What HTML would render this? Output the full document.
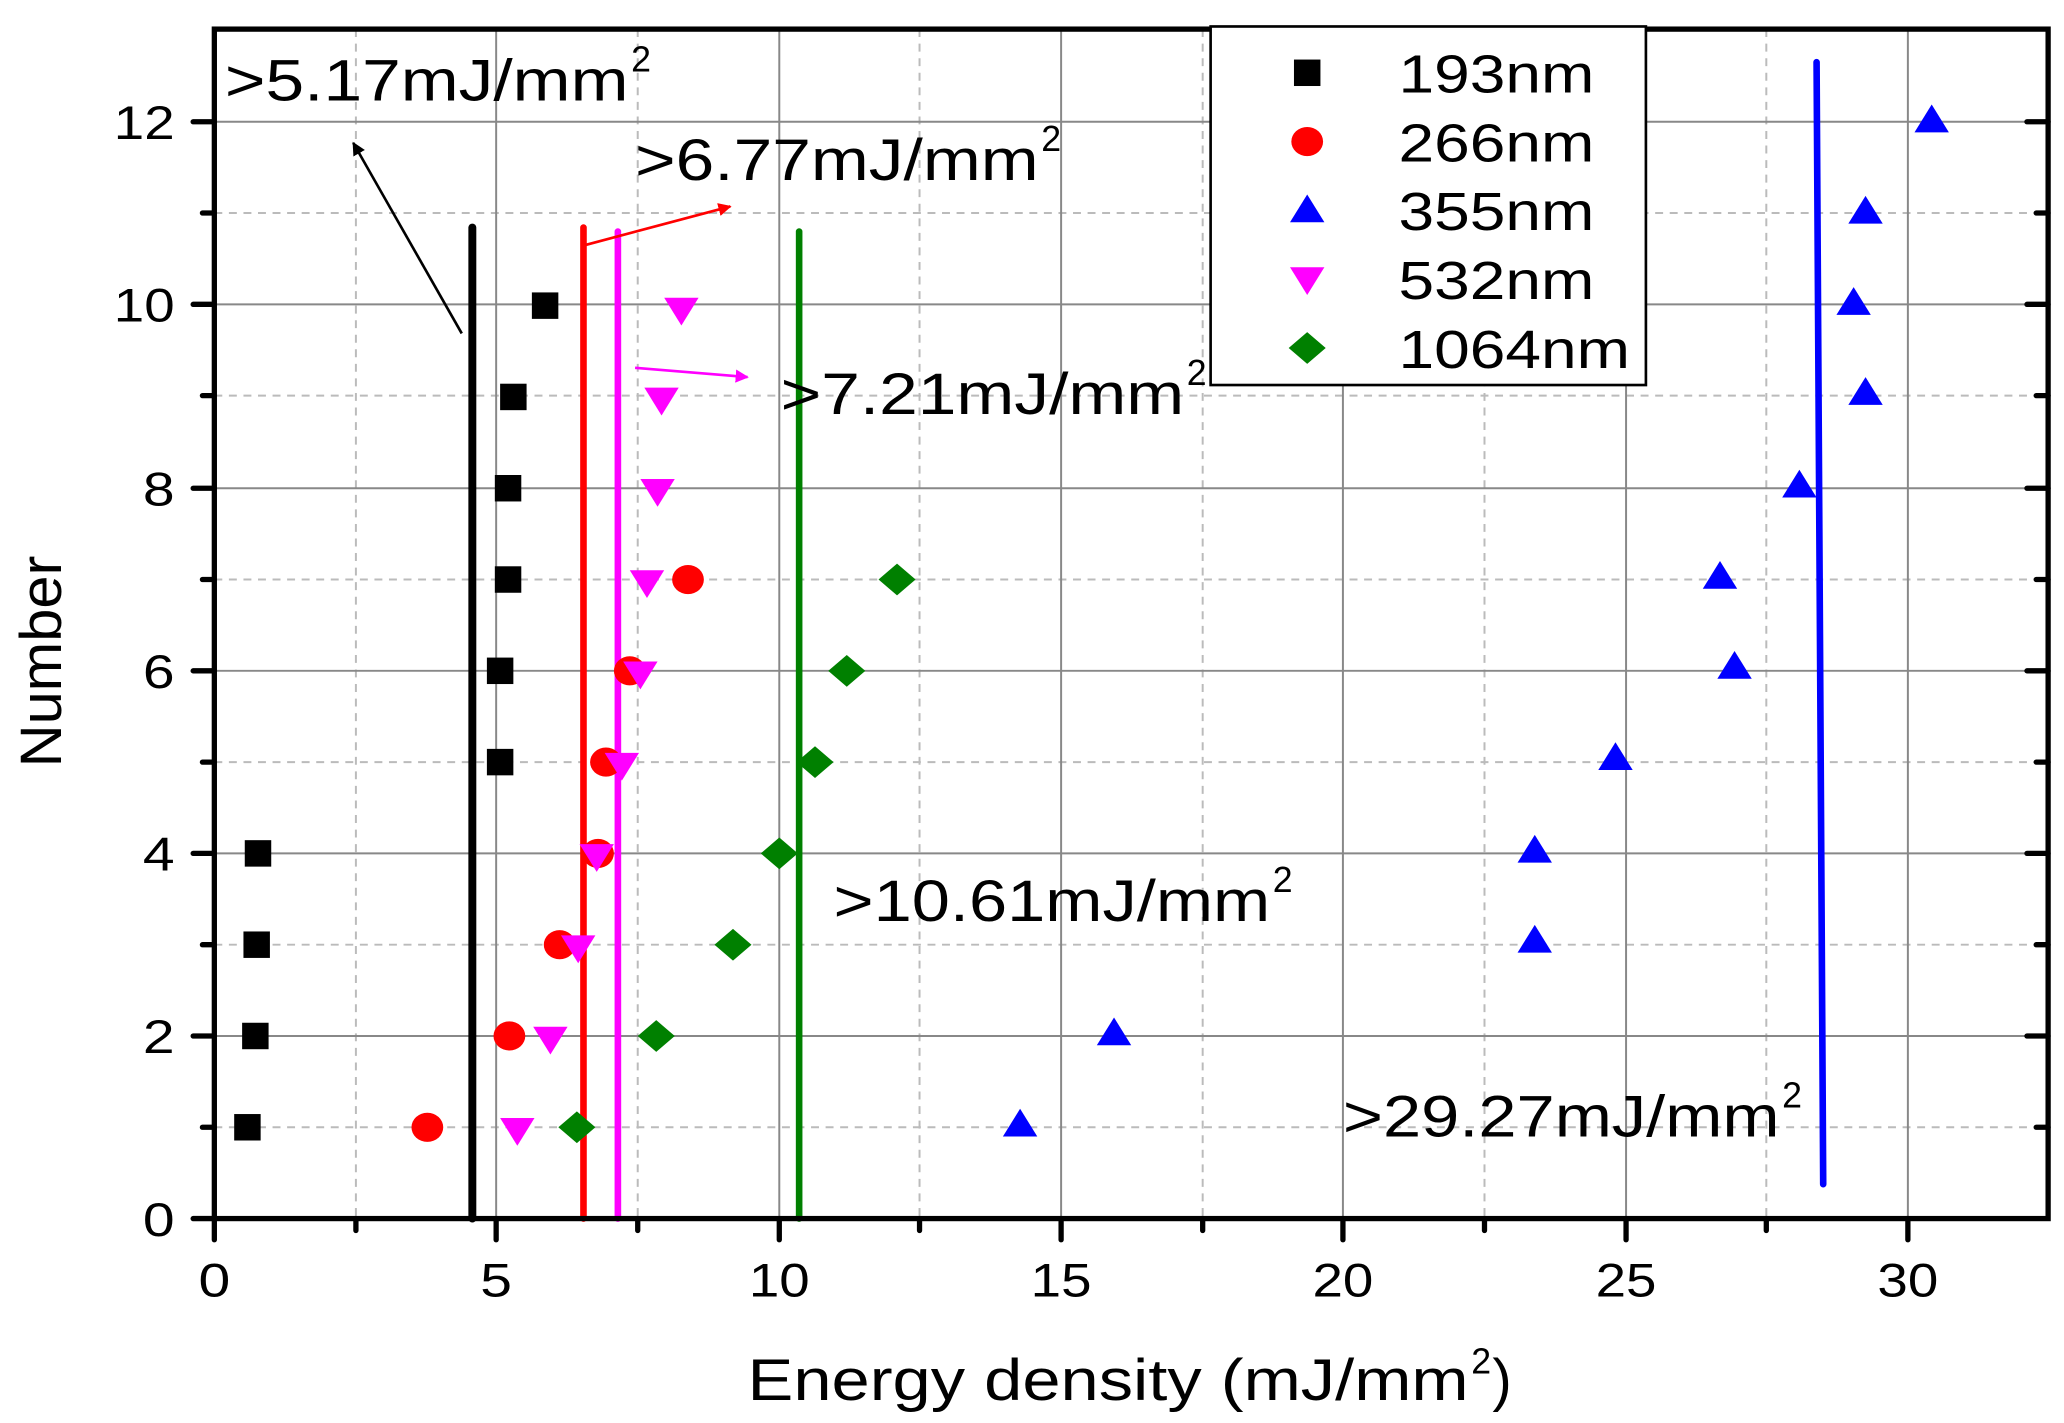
<!DOCTYPE html>
<html><head><meta charset="utf-8"><style>html,body{margin:0;padding:0;background:#fff}svg{display:block}text{font-family:"Liberation Sans",sans-serif}</style></head>
<body>
<svg width="2064" height="1423" viewBox="0 0 1560 1075.5" xmlns="http://www.w3.org/2000/svg">
<defs>
<marker id="ab" markerWidth="10" markerHeight="10" refX="9" refY="5" orient="auto" markerUnits="userSpaceOnUse"><path d="M0,0 L10,5 L0,10 z" fill="#000"/></marker>
<marker id="ar" markerWidth="10" markerHeight="10" refX="9" refY="5" orient="auto" markerUnits="userSpaceOnUse"><path d="M0,0 L10,5 L0,10 z" fill="red"/></marker>
<marker id="am" markerWidth="10" markerHeight="10" refX="9" refY="5" orient="auto" markerUnits="userSpaceOnUse"><path d="M0,0 L10,5 L0,10 z" fill="magenta"/></marker>
</defs>
<g stroke="#bbb" stroke-width="1.5" stroke-dasharray="6,5">
<line x1="269" y1="22" x2="269" y2="921"/><line x1="482" y1="22" x2="482" y2="921"/><line x1="695" y1="22" x2="695" y2="921"/><line x1="909" y1="22" x2="909" y2="921"/><line x1="1122" y1="22" x2="1122" y2="921"/><line x1="1335" y1="22" x2="1335" y2="921"/>
<line x1="162" y1="852" x2="1548" y2="852"/><line x1="162" y1="714" x2="1548" y2="714"/><line x1="162" y1="576" x2="1548" y2="576"/><line x1="162" y1="438" x2="1548" y2="438"/><line x1="162" y1="299" x2="1548" y2="299"/><line x1="162" y1="161" x2="1548" y2="161"/>
</g>
<g stroke="#888" stroke-width="1.5">
<line x1="375" y1="22" x2="375" y2="921"/><line x1="589" y1="22" x2="589" y2="921"/><line x1="802" y1="22" x2="802" y2="921"/><line x1="1015" y1="22" x2="1015" y2="921"/><line x1="1229" y1="22" x2="1229" y2="921"/><line x1="1442" y1="22" x2="1442" y2="921"/>
<line x1="162" y1="783" x2="1548" y2="783"/><line x1="162" y1="645" x2="1548" y2="645"/><line x1="162" y1="507" x2="1548" y2="507"/><line x1="162" y1="369" x2="1548" y2="369"/><line x1="162" y1="230" x2="1548" y2="230"/><line x1="162" y1="92" x2="1548" y2="92"/>
</g>
<g stroke-width="5" stroke-linecap="round">
<line x1="357" y1="172" x2="357" y2="921" stroke="#000" stroke-width="6"/>
<line x1="441" y1="172" x2="441" y2="921" stroke="red"/>
<line x1="467" y1="175" x2="467" y2="921" stroke="magenta"/>
<line x1="604" y1="175" x2="604" y2="921" stroke="green"/>
<line x1="1373" y1="47" x2="1378" y2="895" stroke="blue"/>
</g>
<g fill="#000">
<rect x="177" y="842" width="20" height="20"/><rect x="183" y="773" width="20" height="20"/><rect x="184" y="704" width="20" height="20"/><rect x="185" y="635" width="20" height="20"/><rect x="368" y="566" width="20" height="20"/><rect x="368" y="497" width="20" height="20"/><rect x="374" y="428" width="20" height="20"/><rect x="374" y="359" width="20" height="20"/><rect x="378" y="290" width="20" height="20"/><rect x="402" y="221" width="20" height="20"/>
</g>
<g fill="red">
<ellipse cx="323" cy="852" rx="12" ry="11"/><ellipse cx="385" cy="783" rx="12" ry="11"/><ellipse cx="423" cy="714" rx="12" ry="11"/><ellipse cx="452" cy="645" rx="12" ry="11"/><ellipse cx="458" cy="576" rx="12" ry="11"/><ellipse cx="476" cy="507" rx="12" ry="11"/><ellipse cx="520" cy="438" rx="12" ry="11"/>
</g>
<g fill="magenta">
<path d="M378,845h26l-13,21z"/><path d="M403,776h26l-13,21z"/><path d="M424,707h26l-13,21z"/><path d="M438,638h26l-13,21z"/><path d="M457,569h26l-13,21z"/><path d="M471,500h26l-13,21z"/><path d="M476,431h26l-13,21z"/><path d="M484,362h26l-13,21z"/><path d="M487,293h26l-13,21z"/><path d="M502,225h26l-13,21z"/>
</g>
<g fill="green">
<path d="M436,840l14,12l-14,12l-14,-12z"/><path d="M496,771l14,12l-14,12l-14,-12z"/><path d="M554,702l14,12l-14,12l-14,-12z"/><path d="M589,633l14,12l-14,12l-14,-12z"/><path d="M616,564l14,12l-14,12l-14,-12z"/><path d="M640,495l14,12l-14,12l-14,-12z"/><path d="M678,426l14,12l-14,12l-14,-12z"/>
</g>
<g fill="blue">
<path d="M758,859h26l-13,-21z"/><path d="M829,790h26l-13,-21z"/><path d="M1147,720h26l-13,-21z"/><path d="M1147,652h26l-13,-21z"/><path d="M1208,582h26l-13,-21z"/><path d="M1298,513h26l-13,-21z"/><path d="M1287,445h26l-13,-21z"/><path d="M1347,376h26l-13,-21z"/><path d="M1397,306h26l-13,-21z"/><path d="M1388,238h26l-13,-21z"/><path d="M1397,169h26l-13,-21z"/><path d="M1447,100h26l-13,-21z"/>
</g>
<line x1="349" y1="252" x2="267" y2="108" stroke="#000" stroke-width="2" marker-end="url(#ab)"/>
<line x1="443" y1="185" x2="552" y2="156" stroke="red" stroke-width="2" marker-end="url(#ar)"/>
<line x1="480" y1="278" x2="565" y2="285" stroke="magenta" stroke-width="2" marker-end="url(#am)"/>
<rect x="162" y="22" width="1386" height="899" stroke="#000" stroke-width="4" fill="none"/>
<g stroke="#000" stroke-width="4" stroke-linecap="round">
<line x1="162" y1="921" x2="162" y2="937"/><line x1="269" y1="921" x2="269" y2="930"/><line x1="375" y1="921" x2="375" y2="937"/><line x1="482" y1="921" x2="482" y2="930"/><line x1="589" y1="921" x2="589" y2="937"/><line x1="695" y1="921" x2="695" y2="930"/><line x1="802" y1="921" x2="802" y2="937"/><line x1="909" y1="921" x2="909" y2="930"/><line x1="1015" y1="921" x2="1015" y2="937"/><line x1="1122" y1="921" x2="1122" y2="930"/><line x1="1229" y1="921" x2="1229" y2="937"/><line x1="1335" y1="921" x2="1335" y2="930"/><line x1="1442" y1="921" x2="1442" y2="937"/>
<line x1="146" y1="921" x2="162" y2="921"/><line x1="153" y1="852" x2="162" y2="852"/><line x1="146" y1="783" x2="162" y2="783"/><line x1="153" y1="714" x2="162" y2="714"/><line x1="146" y1="645" x2="162" y2="645"/><line x1="153" y1="576" x2="162" y2="576"/><line x1="146" y1="507" x2="162" y2="507"/><line x1="153" y1="438" x2="162" y2="438"/><line x1="146" y1="369" x2="162" y2="369"/><line x1="153" y1="299" x2="162" y2="299"/><line x1="146" y1="230" x2="162" y2="230"/><line x1="153" y1="161" x2="162" y2="161"/><line x1="146" y1="92" x2="162" y2="92"/>
<line x1="1532" y1="783" x2="1548" y2="783"/><line x1="1539" y1="852" x2="1548" y2="852"/><line x1="1539" y1="714" x2="1548" y2="714"/><line x1="1532" y1="645" x2="1548" y2="645"/><line x1="1539" y1="576" x2="1548" y2="576"/><line x1="1532" y1="507" x2="1548" y2="507"/><line x1="1539" y1="438" x2="1548" y2="438"/><line x1="1532" y1="369" x2="1548" y2="369"/><line x1="1539" y1="299" x2="1548" y2="299"/><line x1="1532" y1="230" x2="1548" y2="230"/><line x1="1539" y1="161" x2="1548" y2="161"/><line x1="1532" y1="92" x2="1548" y2="92"/>
</g>
<g font-size="36" text-anchor="middle" lengthAdjust="spacingAndGlyphs">
<text x="162" y="980" textLength="24" lengthAdjust="spacingAndGlyphs">0</text><text x="375" y="980" textLength="24" lengthAdjust="spacingAndGlyphs">5</text><text x="589" y="980" textLength="46" lengthAdjust="spacingAndGlyphs">10</text><text x="802" y="980" textLength="46" lengthAdjust="spacingAndGlyphs">15</text><text x="1015" y="980" textLength="46" lengthAdjust="spacingAndGlyphs">20</text><text x="1229" y="980" textLength="46" lengthAdjust="spacingAndGlyphs">25</text><text x="1442" y="980" textLength="46" lengthAdjust="spacingAndGlyphs">30</text>
</g>
<g font-size="36" text-anchor="end">
<text x="132" y="934" textLength="24" lengthAdjust="spacingAndGlyphs">0</text><text x="132" y="796" textLength="24" lengthAdjust="spacingAndGlyphs">2</text><text x="132" y="658" textLength="24" lengthAdjust="spacingAndGlyphs">4</text><text x="132" y="520" textLength="24" lengthAdjust="spacingAndGlyphs">6</text><text x="132" y="382" textLength="24" lengthAdjust="spacingAndGlyphs">8</text><text x="132" y="243" textLength="46" lengthAdjust="spacingAndGlyphs">10</text><text x="132" y="105" textLength="46" lengthAdjust="spacingAndGlyphs">12</text>
</g>
<text x="565" y="1058" font-size="44" textLength="545" lengthAdjust="spacingAndGlyphs">Energy density (mJ/mm</text>
<text x="1112" y="1038" font-size="27">2</text>
<text x="1128" y="1058" font-size="44">)</text>
<text transform="translate(46,500) rotate(-90)" font-size="44" text-anchor="middle" textLength="160" lengthAdjust="spacingAndGlyphs">Number</text>
<g font-size="44">
<text x="170" y="76" textLength="305" lengthAdjust="spacingAndGlyphs">&gt;5.17mJ/mm</text><text x="477" y="54" font-size="27">2</text>
<text x="480" y="136" textLength="305" lengthAdjust="spacingAndGlyphs">&gt;6.77mJ/mm</text><text x="787" y="114" font-size="27">2</text>
<text x="590" y="313" textLength="305" lengthAdjust="spacingAndGlyphs">&gt;7.21mJ/mm</text><text x="897" y="291" font-size="27">2</text>
<text x="630" y="696" textLength="330" lengthAdjust="spacingAndGlyphs">&gt;10.61mJ/mm</text><text x="962" y="674" font-size="27">2</text>
<text x="1015" y="859" textLength="330" lengthAdjust="spacingAndGlyphs">&gt;29.27mJ/mm</text><text x="1347" y="837" font-size="27">2</text>
</g>
<rect x="915" y="20" width="329" height="271" fill="#fff" stroke="#000" stroke-width="2"/>
<rect x="978" y="45" width="20" height="20" fill="#000"/>
<ellipse cx="988" cy="107" rx="12" ry="11" fill="red"/>
<path d="M975,168h26l-13,-21z" fill="blue"/>
<path d="M975,202h26l-13,21z" fill="magenta"/>
<path d="M988,251l14,12l-14,12l-14,-12z" fill="green"/>
<g font-size="41">
<text x="1057" y="70" textLength="148" lengthAdjust="spacingAndGlyphs">193nm</text><text x="1057" y="122" textLength="148" lengthAdjust="spacingAndGlyphs">266nm</text><text x="1057" y="174" textLength="148" lengthAdjust="spacingAndGlyphs">355nm</text><text x="1057" y="226" textLength="148" lengthAdjust="spacingAndGlyphs">532nm</text><text x="1057" y="278" textLength="175" lengthAdjust="spacingAndGlyphs">1064nm</text>
</g>
</svg>
</body></html>
